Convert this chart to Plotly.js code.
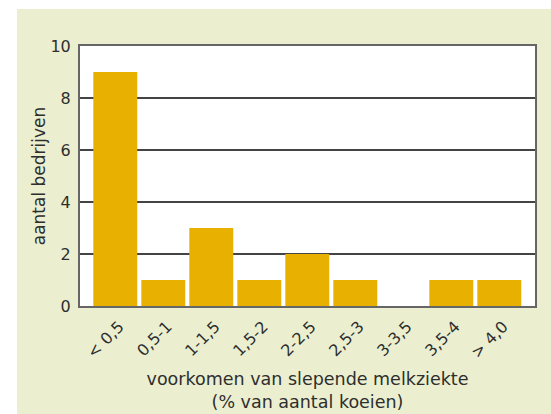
<!DOCTYPE html>
<html>
<head>
<meta charset="utf-8">
<script src="https://cdn.plot.ly/plotly-3.0.1.min.js"></script>
<style>
html,body{margin:0;padding:0;background:#ffffff;width:551px;height:414px;overflow:hidden;}
#chart{position:absolute;left:17px;top:9px;width:534px;height:405px;}
</style>
</head>
<body>
<div id="chart"></div>
<script>
var categories = ["< 0,5", "0,5-1", "1-1,5", "1,5-2", "2-2,5", "2,5-3", "3-3,5", "3,5-4", "> 4,0"];
var bedrijven = [9, 1, 3, 1, 2, 1, 0, 1, 1];
var yTicks = [0, 2, 4, 6, 8, 10];

var font = "DejaVu Sans, sans-serif";
var trace = {
  type: "bar",
  x: categories,
  y: bedrijven,
  marker: {color: "#e8b000", line: {width: 0}},
  hoverinfo: "x+y"
};
var layout = {
  width: 534, height: 405,
  paper_bgcolor: "#ebefd0",
  plot_bgcolor: "#ffffff",
  margin: {l: 63, r: 16, t: 36.5, b: 107.5},
  bargap: 0.085,
  showlegend: false,
  font: {family: font, color: "#2e2e2e"},
  xaxis: {
    type: "category",
    range: [-0.735, 8.744],
    tickangle: -45,
    tickfont: {size: 16, color: "#2e2e2e"},
    ticks: "",
    ticklabelshift: 4,
    ticklabelstandoff: 3,
    showline: true, mirror: true, linecolor: "#666666", linewidth: 2,
    showgrid: false, zeroline: false,
    automargin: false,
    title: {text: "voorkomen van slepende melkziekte<br>(% van aantal koeien)", font: {size: 17.5, color: "#2e2e2e"}, standoff: 12}
  },
  yaxis: {
    range: [0, 10],
    tickvals: yTicks,
    ticktext: yTicks.map(String),
    tickfont: {size: 16, color: "#2e2e2e"},
    ticks: "",
    ticklabelstandoff: 4,
    showline: true, mirror: true, linecolor: "#666666", linewidth: 2,
    showgrid: true, gridcolor: "#444444", gridwidth: 1.5,
    zeroline: false,
    automargin: false,
    title: {text: "aantal bedrijven", font: {size: 17, color: "#2e2e2e"}, standoff: 0}
  }
};
Plotly.newPlot("chart", [trace], layout, {displayModeBar: false, staticPlot: true});
</script>
</body>
</html>
